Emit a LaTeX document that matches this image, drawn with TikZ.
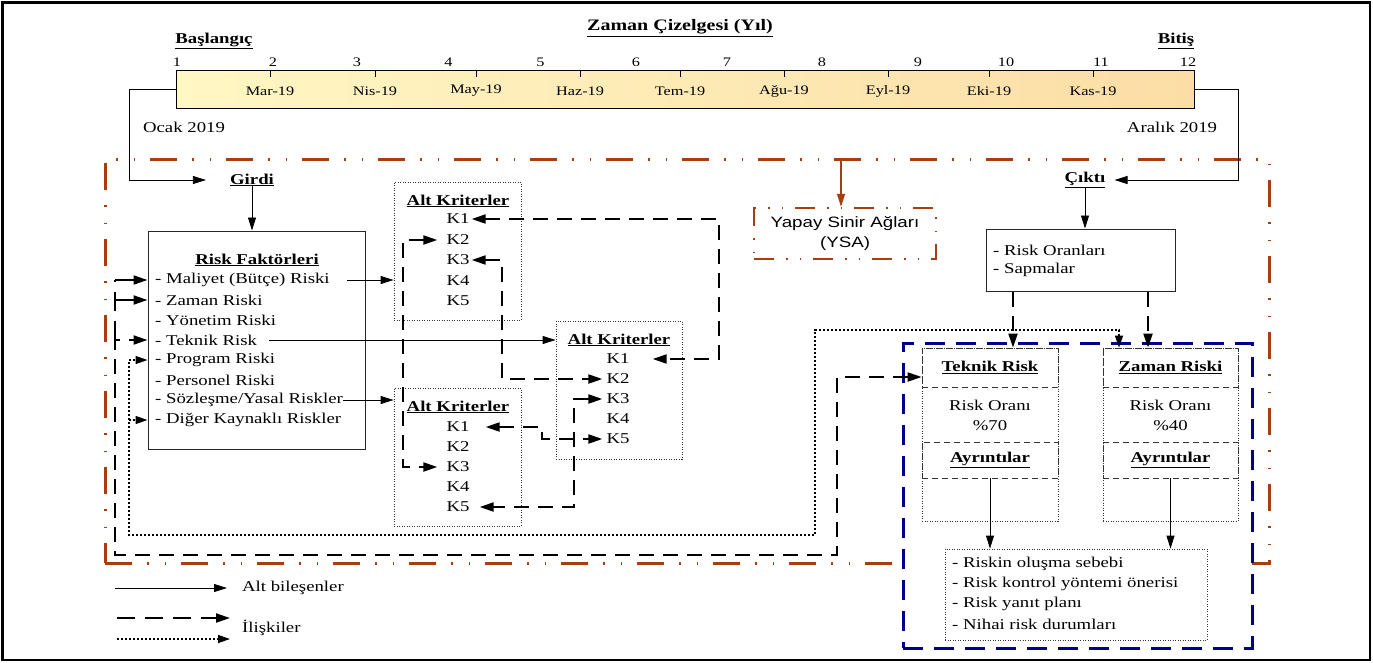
\documentclass[tikz,border=0pt]{standalone}
\usepackage{fontspec}
\setmainfont{Liberation Serif}[FakeStretch=1.25]
\setsansfont{Liberation Sans}[FakeStretch=1.25]
\usetikzlibrary{arrows.meta}
\definecolor{rust}{RGB}{166,62,16}
\definecolor{navyb}{RGB}{0,0,139}
\definecolor{barL}{RGB}{255,247,196}
\definecolor{barR}{RGB}{252,221,166}
\begin{document}
\begin{tikzpicture}[x=1pt,y=-1pt,
  txt/.style={font=\fontsize{15}{20}\selectfont, inner sep=0pt},
  ttl/.style={font=\fontsize{15}{20}\selectfont\bfseries, inner sep=0pt},
  sm/.style={font=\fontsize{13}{16}\selectfont, inner sep=0pt},
  thinarr/.style={line width=0.8pt, -{Triangle[length=13pt,width=8pt]}},
  rel/.style={line width=2pt, dash pattern=on 15pt off 9pt},
  relboth/.style={rel, {Triangle[length=14pt,width=9pt]}-{Triangle[length=14pt,width=9pt]}},
  relend/.style={rel, -{Triangle[length=14pt,width=9pt]}},
  relshort/.style={line width=2pt, -{Triangle[length=14pt,width=9pt]}},
  dotl/.style={line width=1.3pt, dash pattern=on 2pt off 2pt},
  dotboth/.style={dotl, {Triangle[length=12pt,width=8pt]}-{Triangle[length=12pt,width=8pt]}},
  dotend/.style={dotl, -{Triangle[length=12pt,width=8pt]}},
  dotbox/.style={draw=black!80, line width=0.8pt, dash pattern=on 1pt off 1.5pt, inner sep=0pt},
  dashcell/.style={draw=black!80, line width=0.8pt, dash pattern=on 6pt off 4pt, inner sep=0pt},
  solidbox/.style={draw=black!85, line width=1pt, inner sep=0pt},
  orframe/.style={draw=rust, line width=3pt, dash pattern=on 27pt off 15pt on 1.5pt off 16pt on 1.5pt off 15pt},
  ysabox/.style={draw=rust, line width=2.5pt, dash pattern=on 20pt off 12pt on 1.5pt off 12pt on 1.5pt off 12pt, inner sep=0pt},
  orarr/.style={draw=rust, line width=1.5pt, -{Triangle[length=13pt,width=8pt]}},
  bluebox/.style={draw=navyb, line width=3pt, dash pattern=on 20pt off 11pt, fill=white, inner sep=0pt}
]
\fill[white] (0,0) rectangle (1373,662);
\useasboundingbox (0,0) rectangle (1373,662);
\draw[line width=2.5pt] (2.5,2.5) rectangle (1370,660);

% ---- timeline ----
\node[font=\fontsize{16}{20}\selectfont\bfseries, inner sep=0pt] (title) at (680,28) {\underline{Zaman Çizelgesi (Yıl)}};
\node[ttl] (basl) at (214,41) {\underline{Başlangıç}};
\node[ttl] (bitis) at (1176,41) {\underline{Bitiş}};
\node[draw=black, line width=0.8pt, left color=barL, right color=barR, minimum width=1018pt, minimum height=38pt, inner sep=0pt] (bar) at (685,89.5) {};
\foreach \x/\n in {177/1,273/2,357/3,448.5/4,540.5/5,636/6,727/7,822/8,918/9,1006/10,1101/11,1188/12}
  \node[sm] (num\n) at (\x,62.5) {\n};
\foreach \x/\m in {270/Mar-19,375/Nis-19,476/May-19,580/Haz-19,680/Tem-19,784/Ağu-19,888/Eyl-19,989/Eki-19,1093/Kas-19}
  {\draw[line width=0.8pt] (\x,70.5) -- (\x,77);
   \node[sm] at (\x,91) {\m};}
\node[txt] (ocak) at (184,127) {Ocak 2019};
\node[txt] (aralik) at (1172,127) {Aralık 2019};

% ---- orange frame ----
\node[orframe, minimum width=1164pt, minimum height=404pt, inner sep=0pt] (frame) at (687,361) {};
\node[ysabox, minimum width=182pt, minimum height=51pt, align=center, font=\sffamily\fontsize{15}{20}\selectfont] (ysa) at (845,233.5) {Yapay Sinir Ağları\\(YSA)};
\coordinate (ot) at (841,159);
\draw[orarr] (ot) -- (ot |- ysa.north);

% ---- Girdi / Cikti ----
\node[ttl] (girdi) at (252,180) {\underline{Girdi}};
\node[ttl] (cikti) at (1085,180) {\underline{Çıktı}};
\coordinate (cl) at (129,0);
\coordinate (cr) at (1238,0);
\draw[thinarr] (bar.west) -- (bar.west -| cl) -- (cl |- girdi) -- ([xshift=-24pt]girdi.west);
\draw[thinarr] (bar.east) -- (bar.east -| cr) -- (cr |- cikti) -- ([xshift=9pt]cikti.east);

% ---- Risk Faktorleri ----
\node[solidbox, minimum width=217pt, minimum height=218pt] (rf) at (256.5,340) {};
\node[ttl] (rft) at (257,260) {\underline{Risk Faktörleri}};
\node[txt, anchor=west] (rf1) at (155,280) {- Maliyet (Bütçe) Riski};
\node[txt, anchor=west] (rf2) at (155,300) {- Zaman Riski};
\node[txt, anchor=west] (rf3) at (155,320) {- Yönetim Riski};
\node[txt, anchor=west] (rf4) at (155,340) {- Teknik Risk};
\node[txt, anchor=west] (rf5) at (155,360) {- Program Riski};
\node[txt, anchor=west] (rf6) at (155,380) {- Personel Riski};
\node[txt, anchor=west] (rf7) at (155,400) {- Sözleşme/Yasal Riskler};
\node[txt, anchor=west] (rf8) at (155,420) {- Diğer Kaynaklı Riskler};
\draw[thinarr] (girdi.south) -- (girdi.south |- rf.north);

% ---- Alt Kriterler boxes ----
\node[dotbox, minimum width=127pt, minimum height=138pt] (a1) at (457.5,251) {};
\node[ttl] (a1t) at (458,201) {\underline{Alt Kriterler}};
\foreach \i/\y in {1/219,2/240,3/260,4/281,5/301}
  \node[txt] (a1k\i) at (458,\y) {K\i};
\node[dotbox, minimum width=127pt, minimum height=138pt] (a2) at (457.5,457) {};
\node[ttl] (a2t) at (458,407) {\underline{Alt Kriterler}};
\foreach \i/\y in {1/427,2/447,3/467,4/487,5/507}
  \node[txt] (a2k\i) at (458,\y) {K\i};
\node[dotbox, minimum width=126pt, minimum height=138pt] (a3) at (619,390) {};
\node[ttl] (a3t) at (619,340) {\underline{Alt Kriterler}};
\foreach \i/\y in {1/359,2/379,3/399,4/419,5/439}
  \node[txt] (a3k\i) at (618,\y) {K\i};

\draw[thinarr] ([xshift=17pt]rf1.east) -- (rf1.east -| a1.west);
\draw[thinarr] ([xshift=12pt]rf4.east) -- (rf4.east -| a3.west);
\draw[thinarr] (rf7.east) -- (rf7.east -| a2.west);

% relations between sub-criteria
\coordinate (v1) at (719,0);
\coordinate (v2) at (403,0);
\coordinate (v3) at (502,0);
\coordinate (v4) at (542,0);
\coordinate (v5) at (574,0);
\draw[relboth] ([xshift=2pt]a1k1.east) -- (a1k1 -| v1) -- (a3k1 -| v1) -- ([xshift=23pt]a3k1.east);
\draw[relboth] ([xshift=-9pt]a1k2.west) -- (a1k2 -| v2) -- (a2k3 -| v2) -- ([xshift=-9pt]a2k3.west);
\draw[relboth] ([xshift=2pt]a1k3.east) -- (a1k3 -| v3) -- (a3k2 -| v3) -- ([xshift=-4pt]a3k2.west);
\draw[relboth] ([xshift=16pt]a2k1.east) -- (a2k1 -| v4) -- (a3k5 -| v4) -- ([xshift=-4pt]a3k5.west);
\draw[relboth] ([xshift=-4pt]a3k3.west) -- (a3k3 -| v5) -- (a2k5 -| v5) -- ([xshift=10pt]a2k5.east);

% ---- output side ----
\node[solidbox, minimum width=189pt, minimum height=62pt] (ro) at (1080.5,260) {};
\node[txt, anchor=west] (ro1) at (993,250) {- Risk Oranları};
\node[txt, anchor=west] (ro2) at (993,270) {- Sapmalar};
\draw[thinarr] (cikti.south) -- (cikti.south |- ro.north);

\node[bluebox, minimum width=349pt, minimum height=305pt] (blue) at (1077.5,495.5) {};

\node[dotbox, minimum width=136pt, minimum height=173pt] (trO) at (990,434.5) {};
\node[dashcell, minimum width=136pt, minimum height=39pt, font=\fontsize{15}{20}\selectfont\bfseries] (trT) at (990,367.5) {\underline{Teknik Risk}};
\node[txt, align=center] (trR) at (990,415) {Risk Oranı\\\%70};
\node[dashcell, minimum width=136pt, minimum height=36pt, font=\fontsize{15}{20}\selectfont\bfseries] (trA) at (990,460) {\underline{Ayrıntılar}};

\node[dotbox, minimum width=135pt, minimum height=173pt] (zrO) at (1170.5,434.5) {};
\node[dashcell, minimum width=135pt, minimum height=39pt, font=\fontsize{15}{20}\selectfont\bfseries] (zrT) at (1170.5,367.5) {\underline{Zaman Riski}};
\node[txt, align=center] (zrR) at (1170.5,415) {Risk Oranı\\\%40};
\node[dashcell, minimum width=135pt, minimum height=36pt, font=\fontsize{15}{20}\selectfont\bfseries] (zrA) at (1170.5,460) {\underline{Ayrıntılar}};

\node[dotbox, minimum width=262pt, minimum height=91pt] (dt) at (1076,594.5) {};
\node[txt, anchor=west] (dt1) at (952,564) {- Riskin oluşma sebebi};
\node[txt, anchor=west] (dt2) at (952,584) {- Risk kontrol yöntemi önerisi};
\node[txt, anchor=west] (dt3) at (952,604) {- Risk yanıt planı};
\node[txt, anchor=west] (dt4) at (952,624) {- Nihai risk durumları};

\draw[thinarr] (trA.south) -- (trA.south |- dt.north);
\draw[thinarr] (zrA.south) -- (zrA.south |- dt.north);

\coordinate (roL) at ([xshift=-67.5pt]ro.south);
\coordinate (roR) at ([xshift=67.5pt]ro.south);
\draw[relend] (roL) -- (roL |- trT.north);
\draw[relend] (roR) -- (roR |- zrT.north);

% ---- big dashed loop ----
\coordinate (dtip) at ([yshift=-9.5pt]trT.west);
\coordinate (dlR) at (837,555);
\coordinate (dlL) at (115,555);
\draw[relboth] (dtip) -- (dtip -| dlR) -- (dlR) -- (dlL) -- (dlL |- rf4) -- (rf.west |- rf4);
\draw[line width=2pt, dash pattern=on 19pt off 10pt] (dlL |- rf4) -- (dlL |- rf1);
\draw[relshort] (dlL |- rf2) -- (rf.west |- rf2);
\draw[relshort] (dlL |- rf1) -- (rf.west |- rf1);

% ---- dotted loop ----
\coordinate (dA) at (1119,330);
\coordinate (dB) at (815,535);
\coordinate (dL) at (129,535);
\draw[dotboth] (dA |- zrT.north) -- (dA) -- (dA -| dB) -- (dB) -- (dL) -- (dL |- rf5) -- (rf.west |- rf5);
\draw[dotend] (dL |- rf8) -- (rf.west |- rf8);

% ---- legend ----
\coordinate (lg1a) at (115,588);
\coordinate (lg1b) at (227,588);
\coordinate (lg2a) at (117,618);
\coordinate (lg2b) at (230,618);
\coordinate (lg3a) at (117,639);
\coordinate (lg3b) at (230,639);
\draw[thinarr] (lg1a) -- (lg1b);
\draw[line width=2pt, dash pattern=on 18pt off 10pt, -{Triangle[length=14pt,width=9pt]}] (lg2a) -- (lg2b);
\draw[dotend] (lg3a) -- (lg3b);
\node[txt, anchor=west] (lgt1) at (242,588) {Alt bileşenler};
\node[txt, anchor=west] (lgt2) at (242,628) {İlişkiler};
\end{tikzpicture}
\end{document}
